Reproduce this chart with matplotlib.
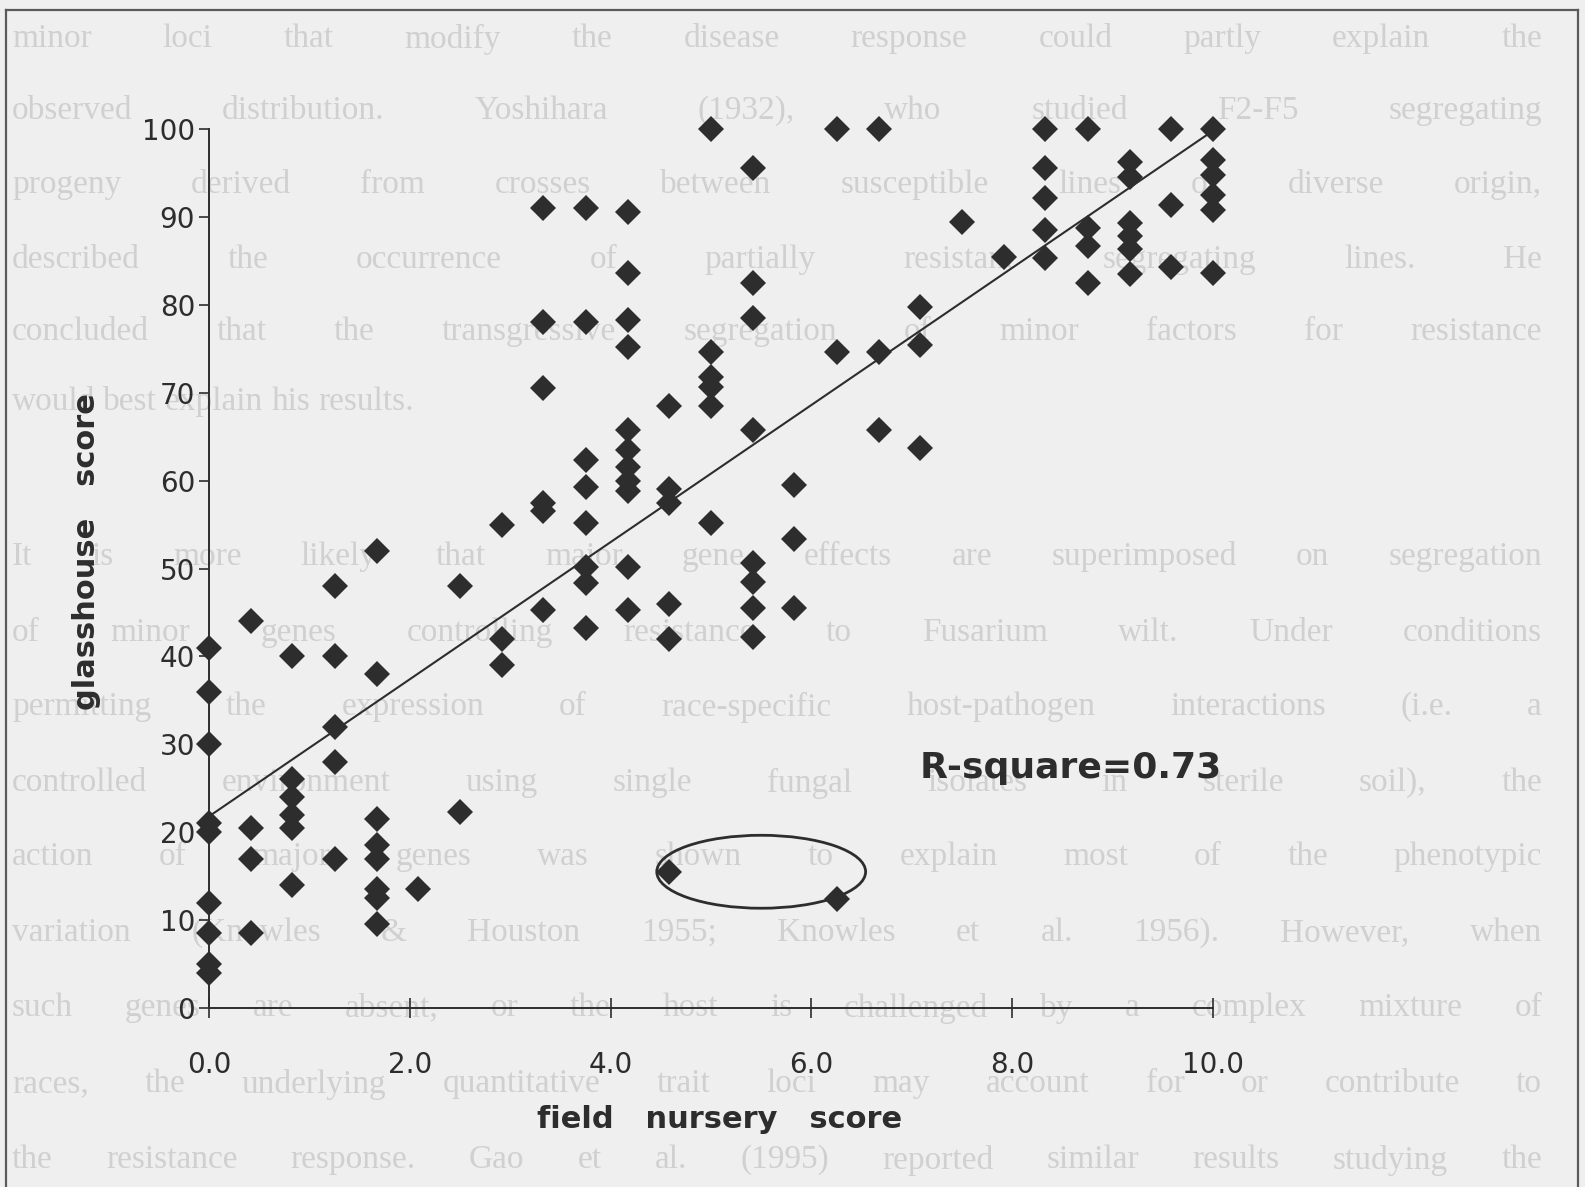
import matplotlib.pyplot as plt
from matplotlib.patches import Ellipse
from matplotlib.lines import Line2D

# ---- data: field nursery score columns and the glasshouse scores in each ----
field_scores = [0.0, 0.42, 0.83, 1.25, 1.67, 2.08, 2.5, 2.92, 3.33, 3.75,
                4.17, 4.58, 5.0, 5.42, 5.83, 6.25, 6.67, 7.08, 7.5, 7.92,
                8.33, 8.75, 9.17, 9.58, 10.0]
glasshouse_scores = [
    [41, 36, 30, 21, 20, 12, 8.5, 5, 4],
    [44, 20.5, 17, 8.5],
    [40, 26, 24, 22, 20.5, 14],
    [48, 40, 32, 28, 17],
    [52, 38, 21.5, 18.5, 17, 13.5, 12.5, 9.5],
    [13.5],
    [48, 22.3],
    [55, 42, 39],
    [91, 78, 70.5, 57.5, 56.5, 45.3],
    [91, 78, 62.3, 59.3, 55.2, 50.2, 48.3, 43.2],
    [90.6, 83.6, 78.3, 75.2, 65.8, 63.5, 61.5, 60, 58.8, 50.2, 45.3],
    [68.5, 59, 57.5, 46, 42, 15.5],
    [100, 74.6, 71.8, 70.7, 68.5, 55.2],
    [95.6, 82.5, 78.5, 65.8, 50.6, 48.5, 45.5, 42.2],
    [59.5, 53.3, 45.5],
    [100, 74.6, 12.4],
    [100, 74.6, 65.8],
    [79.7, 75.4, 63.7],
    [89.4],
    [85.4],
    [100, 95.6, 92.2, 88.5, 85.3],
    [100, 88.7, 86.7, 82.5],
    [96.3, 94.5, 89.3, 87.8, 86.3, 83.5],
    [100, 91.3, 84.3],
    [100, 96.5, 94.8, 92.5, 90.8, 83.6],
]

# regression line
fit_intercept = 21.8
fit_slope = 7.8
r_square = 0.73

x_ticks = [0, 2, 4, 6, 8, 10]
y_ticks = [0, 10, 20, 30, 40, 50, 60, 70, 80, 90, 100]

# text of the page behind the figure
page_lines = [
    "minor loci that modify the disease response could partly explain the",
    "observed distribution. Yoshihara (1932), who studied F2-F5 segregating",
    "progeny derived from crosses between susceptible lines of diverse origin,",
    "described the occurrence of partially resistant segregating lines. He",
    "concluded that the transgressive segregation of minor factors for resistance",
    "would best explain his results.",
    "It is more likely that major gene effects are superimposed on segregation",
    "of minor genes controlling resistance to Fusarium wilt. Under conditions",
    "permitting the expression of race-specific host-pathogen interactions (i.e. a",
    "controlled environment using single fungal isolates in sterile soil), the",
    "action of major genes was shown to explain most of the phenotypic",
    "variation (Knowles & Houston 1955; Knowles et al. 1956). However, when",
    "such genes are absent, or the host is challenged by a complex mixture of",
    "races, the underlying quantitative trait loci may account for or contribute to",
    "the resistance response. Gao et al. (1995) reported similar results studying the",
]
page_rows = [39, 111, 185, 260, 332, 402, 557, 633, 707, 783, 857, 933, 1008, 1084, 1160]
page_justified = [True, True, True, True, True, False,
                  True, True, True, True, True, True, True, True, True]

W, H = 1585, 1187
paper = "#efefef"
ghost = "#d0d0d0"
ink = "#2d2d2d"

fig = plt.figure(figsize=(W / 100, H / 100), dpi=100, facecolor=paper)

# faint show-through text, justified between the margins
renderer = fig.canvas.get_renderer()
left_px, right_px = 12, 1542
for line, row, full in zip(page_lines, page_rows, page_justified):
    words = line.split()
    items = [fig.text(0, 1 - row / H, w, fontsize=24, family="Liberation Serif",
                      color=ghost, va="center", ha="left", zorder=-5) for w in words]
    widths = [t.get_window_extent(renderer).width for t in items]
    if full and len(words) > 1:
        gap = (right_px - left_px - sum(widths)) / (len(words) - 1)
    else:
        gap = 8
    x = left_px
    for t, w in zip(items, widths):
        t.set_x(x / W)
        x += w + gap

# frame round the figure
frame_kw = dict(transform=fig.transFigure, color="#5a5a5a", lw=1.6)
fig.add_artist(Line2D([6 / W, 1578 / W], [1 - 10 / H, 1 - 10 / H], **frame_kw))
fig.add_artist(Line2D([6 / W, 6 / W], [0, 1 - 10 / H], **frame_kw))
fig.add_artist(Line2D([1578 / W, 1578 / W], [0, 1 - 10 / H], **frame_kw))

ax = fig.add_axes([209 / W, (H - 1008) / H, 1004 / W, 879 / H])
ax.patch.set_alpha(0)
ax.set_xlim(0, 10)
ax.set_ylim(0, 100)

for fx, col in zip(field_scores, glasshouse_scores):
    ax.plot([fx] * len(col), col, "D", ms=13, color=ink, mew=0, clip_on=False, zorder=4)

ax.plot([0, 10], [fit_intercept, fit_intercept + fit_slope * 10], color=ink, lw=1.5,
        clip_on=False, zorder=3)

ax.add_patch(Ellipse((5.5, 15.5), 2.08, 8.3, fill=False, edgecolor=ink, lw=2, zorder=3))

ax.text(8.58, 27.3, f"R-square={r_square:.2f}", ha="center", va="center",
        fontsize=26, fontweight="bold", color=ink)

for side in ["top", "right"]:
    ax.spines[side].set_visible(False)
ax.spines["left"].set_bounds(0, 100)
ax.spines["bottom"].set_bounds(0, 10)
for side in ["left", "bottom"]:
    ax.spines[side].set_color(ink)
    ax.spines[side].set_linewidth(1.4)

ax.set_xticks(x_ticks)
ax.set_xticklabels([f"{v:.1f}" for v in x_ticks])
ax.set_yticks(y_ticks)
ax.tick_params(axis="y", direction="out", length=7, width=1.2, pad=3,
               labelsize=20, colors=ink)
ax.tick_params(axis="x", direction="inout", length=14, width=1.2, pad=24,
               labelsize=20, colors=ink)

ax.set_xlabel("field   nursery   score", fontsize=22, fontweight="bold", color=ink, va="center")
ax.xaxis.set_label_coords(0.509, -0.1274)
ax.set_ylabel("glasshouse   score", fontsize=22, fontweight="bold", color=ink, va="center")
ax.yaxis.set_label_coords(-0.1225, 0.519)

fig.savefig("out.png", dpi=100, facecolor=paper)
